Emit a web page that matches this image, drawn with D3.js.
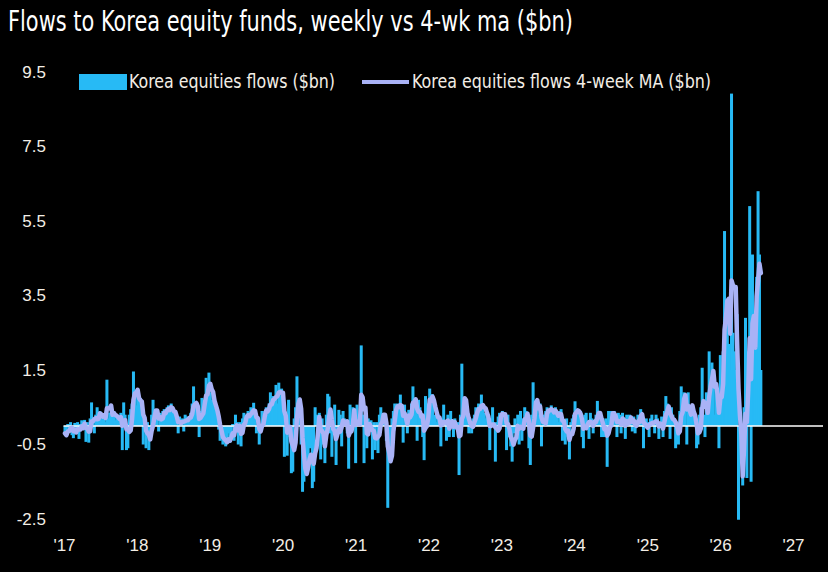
<!DOCTYPE html>
<html>
<head>
<meta charset="utf-8">
<script src="https://cdn.jsdelivr.net/npm/d3@7/dist/d3.min.js"></script>
<style>
  body { margin: 0; background: #000; }
  svg { display: block; background: #000; }
</style>
</head>
<body>
<div id="main"></div>
<script>
const ctx = {
    w: 828,
    h: 572,
    BAR_W: 3,
    BAR_COLOR: "#27baf5",
    MA_COLOR: "#a9b2f6",
    TXT_COLOR: "#f3eee6",
    FONT: "'Liberation Sans', Arial, sans-serif",
    NARROW: "'Liberation Sans Narrow', 'DejaVu Sans Condensed', sans-serif",
};

const TITLE = "Flows to Korea equity funds, weekly vs 4-wk ma ($bn)";
const LEGEND_LABELS = ["Korea equities flows ($bn)", "Korea equities flows 4-week MA ($bn)"];
const Y_TICKS = [-2.5, -0.5, 1.5, 3.5, 5.5, 7.5, 9.5];
const X_TICK_YEARS = [2017, 2018, 2019, 2020, 2021, 2022, 2023, 2024, 2025, 2026, 2027];
const FIRST_WEEK = "2017-01-06";

// weekly flows, $bn, one array per calendar year
const flows2017 = [-0.2,-0.3,0.05,-0.1,0.1,-0.25,-0.33,0.08,-0.2,0.1,-0.35,0.05,0.15,-0.1,0.16,-0.43,0.1,-0.45,0.2,0.63,
                   0.1,-0.2,0.3,0.5,0.15,0.39,0.2,0.25,0.3,0.1,1.24,0.2,0.35,0.39,0.25,0.39,0.15,0.3,0.1,0.2,
                   0.35,-0.65,0.63,0.3,-0.65,-0.6,0.3,0.45,0.6,1.46,0.97,0.55];
const flows2018 = [0.9,0.55,0.75,0.4,-0.5,0.2,-0.6,0.1,-0.65,-0.3,0.3,0.7,0.2,0.45,0.3,-0.15,0.35,0.2,0.4,0.45,
                   0.3,0.5,0.55,0.35,0.6,0.4,0.2,0.3,0.1,-0.2,0.25,0.15,0.2,-0.15,0.3,0.25,0.2,0.1,0.35,0.6,
                   1.06,0.3,0.5,0.25,-0.3,0.4,0.75,0.5,0.7,1.29,0.9,1.43];
const flows2019 = [0.9,0.7,0.6,0.5,0.4,0.2,-0.1,-0.4,-0.2,-0.5,-0.3,-0.55,-0.4,-0.2,-0.45,-0.2,0.05,-0.4,0.3,0.1,
                   -0.5,0.1,-0.55,0.2,0.35,0.3,0.1,0.4,0.25,0.5,0.3,0.62,0.2,-0.2,0.2,-0.5,-0.1,0.4,0.35,0.4,
                   0.5,0.3,0.6,0.9,0.5,0.8,0.7,1.1,0.6,1.16,0.8,1.0];
const flows2020 = [0.6,-0.83,0.3,-0.8,0.7,-0.3,-1.27,-1.23,0.2,0.5,1.33,0.3,0.7,-0.5,-1.77,-1.5,-0.8,-1.1,-1.1,-0.6,
                   -0.3,-1.67,-1.5,0.5,0.3,-0.2,0.35,-0.9,0.2,-0.5,-1.0,0.3,0.86,0.79,-0.2,-0.83,-0.1,0.57,-1.05,-0.3,
                   0.43,0.3,-0.55,0.4,0.2,0.1,-0.2,-1.15,0.57,0.2,0.5,0.4];
const flows2021 = [-1.0,0.57,0.3,0.3,2.16,0.3,-1.0,0.5,-0.6,0.2,0.1,0.15,-0.9,0.1,-0.65,0.1,-0.73,0.3,0.5,0.3,
                   0.1,0.3,-0.4,-2.2,-0.55,-0.65,0.2,0.4,0.6,0.5,0.6,0.3,0.84,0.4,-0.45,0.57,0.3,-0.2,0.43,0.4,
                   0.6,1.06,0.5,0.7,-0.4,0.7,0.5,0.2,-0.3,-0.92,0.8,0.4,0.6];
const flows2022 = [1.0,0.7,0.85,0.2,0.3,0.1,0.3,0.2,-0.55,0.2,0.57,0.1,-0.4,0.3,-0.3,0.4,0.1,-0.3,0.2,-0.1,
                   0.1,-1.32,0.3,1.67,0.4,0.6,0.1,0.3,-0.2,0.1,-0.2,0.2,0.3,0.5,0.4,0.6,0.3,0.84,0.5,0.35,
                   0.2,0.35,0.1,-0.65,0.2,0.5,0.1,-0.96,0.1,0.25,0.35,0.3];
const flows2023 = [0.4,0.2,0.35,-0.65,0.3,-0.3,-0.55,-0.96,-0.2,0.2,-0.3,0.3,-0.5,0.4,-0.4,0.2,0.5,0.4,0.2,-0.6,
                   -1.05,0.3,1.17,0.4,0.64,0.55,0.3,0.6,-0.55,0.1,0.3,0.4,0.5,0.45,0.3,0.55,0.4,0.2,0.5,0.3,
                   0.1,0.4,0.45,-0.4,0.1,-0.5,0.2,-0.3,-0.9,0.1,0.2,0.3];
const flows2024 = [0.66,0.3,0.4,0.2,0.4,-0.3,-0.6,0.3,0.35,0.1,-0.35,0.35,0.2,-0.2,0.1,0.3,0.67,0.3,0.1,-0.3,
                   0.15,-0.3,0.2,-1.1,0.4,0.35,0.4,0.2,0.4,0.1,-0.3,0.35,0.3,-0.2,0.35,0.2,-0.35,0.3,0.1,0.3,
                   0.2,-0.15,0.25,-0.2,0.1,0.3,0.2,0.45,0.3,-0.6,0.1,0.2];
const flows2025 = [0.1,-0.3,0.2,0.3,0.1,-0.2,0.3,0.2,-0.35,0.1,0.25,-0.3,0.4,0.8,0.6,0.3,-0.35,0.5,0.3,0.2,
                   -0.6,0.1,-0.5,0.4,1.06,0.5,0.9,0.85,-0.5,0.9,0.5,0.3,0.5,0.2,0.1,-0.6,-0.5,0.3,0.5,1.56,
                   0.3,-0.3,0.9,0.5,2.0,0.8,1.7,1.4,0.3,1.1,0.6,-0.6];
const flows2026 = [1.9,1.2,2.0,5.23,3.2,3.0,2.2,1.5,8.92,2.5,2.0,1.5,3.0,-2.52,-0.8,-0.5,-1.6,0.5,2.9,-1.4,
                   2.0,5.9,-1.5,4.6,2.8,2.5,4.0,6.3,4.6,1.5];

function buildSeries(){
    const flows = [].concat(flows2017, flows2018, flows2019, flows2020, flows2021,
                            flows2022, flows2023, flows2024, flows2025, flows2026);
    const start = d3.timeParse("%Y-%m-%d")(FIRST_WEEK);
    const rows = flows.map((v, i) => ({date: d3.timeDay.offset(start, 7 * i), flow: v}));
    // 4-week moving average of the weekly flows
    rows.forEach((d, i) => {
        d.ma = d3.mean(rows.slice(Math.max(0, i - 3), i + 1), (r) => r.flow);
    });
    return rows;
}

function createViz(){
    const rows = buildSeries();
    const svg = d3.select("#main").append("svg")
                  .attr("width", ctx.w)
                  .attr("height", ctx.h);

    const x = d3.scaleTime()
                .domain([new Date(2017, 0, 1), new Date(2027, 0, 1)])
                .range([64, 793]);
    const y = d3.scaleLinear()
                .domain([-2.5, 9.5])
                .range([519, 72]);

    // title
    svg.append("text")
       .attr("x", 8)
       .attr("y", 31)
       .attr("fill", "#ffffff")
       .attr("font-family", ctx.NARROW)
       .attr("font-size", 28)
       .attr("textLength", 565)
       .attr("lengthAdjust", "spacingAndGlyphs")
       .text(TITLE);

    // y axis labels
    const yAxis = svg.append("g")
                     .attr("transform", "translate(49,0)")
                     .call(d3.axisLeft(y).tickValues(Y_TICKS)
                                         .tickSize(0).tickPadding(3)
                                         .tickFormat((d) => d.toFixed(1)));
    yAxis.select(".domain").remove();
    yAxis.selectAll("text")
         .attr("fill", ctx.TXT_COLOR)
         .attr("font-family", ctx.FONT)
         .attr("font-size", 17);

    // x axis labels
    const xAxis = svg.append("g")
                     .attr("transform", "translate(0,539)")
                     .call(d3.axisBottom(x).tickValues(X_TICK_YEARS.map((yr) => new Date(yr, 0, 1)))
                                           .tickSize(0).tickPadding(0)
                                           .tickFormat((d) => "'" + d3.timeFormat("%y")(d)));
    xAxis.select(".domain").remove();
    xAxis.selectAll("text")
         .attr("fill", ctx.TXT_COLOR)
         .attr("font-family", ctx.FONT)
         .attr("font-size", 17);

    // weekly bars
    svg.append("g")
       .attr("id", "bars")
       .selectAll("rect")
       .data(rows)
       .enter()
       .append("rect")
       .attr("x", (d) => x(d.date) - ctx.BAR_W / 2)
       .attr("width", ctx.BAR_W)
       .attr("y", (d) => y(Math.max(0, d.flow)))
       .attr("height", (d) => Math.abs(y(d.flow) - y(0)))
       .attr("fill", ctx.BAR_COLOR);

    // zero line
    svg.append("line")
       .attr("x1", x(rows[0].date) - 1.5)
       .attr("x2", 823)
       .attr("y1", y(0))
       .attr("y2", y(0))
       .attr("stroke", "#ffffff")
       .attr("stroke-opacity", 0.75)
       .attr("stroke-width", 2);

    // 4-week MA
    const line = d3.line()
                   .x((d) => x(d.date))
                   .y((d) => y(d.ma));
    svg.append("path")
       .datum(rows)
       .attr("d", line)
       .attr("fill", "none")
       .attr("stroke", ctx.MA_COLOR)
       .attr("stroke-width", 4.5)
       .attr("stroke-linejoin", "round")
       .attr("stroke-linecap", "round");

    // legend
    const lg = svg.append("g").attr("id", "legend");
    lg.append("rect")
      .attr("x", 79).attr("y", 74)
      .attr("width", 48).attr("height", 16)
      .attr("fill", ctx.BAR_COLOR);
    lg.append("text")
      .attr("x", 129).attr("y", 88)
      .attr("fill", ctx.TXT_COLOR)
      .attr("font-family", ctx.NARROW)
      .attr("font-size", 20)
      .attr("textLength", 206)
      .attr("lengthAdjust", "spacingAndGlyphs")
      .text(LEGEND_LABELS[0]);
    lg.append("line")
      .attr("x1", 362).attr("x2", 409)
      .attr("y1", 82).attr("y2", 82)
      .attr("stroke", ctx.MA_COLOR)
      .attr("stroke-width", 4);
    lg.append("text")
      .attr("x", 412).attr("y", 88)
      .attr("fill", ctx.TXT_COLOR)
      .attr("font-family", ctx.NARROW)
      .attr("font-size", 20)
      .attr("textLength", 299)
      .attr("lengthAdjust", "spacingAndGlyphs")
      .text(LEGEND_LABELS[1]);
}

createViz();
</script>
</body>
</html>
